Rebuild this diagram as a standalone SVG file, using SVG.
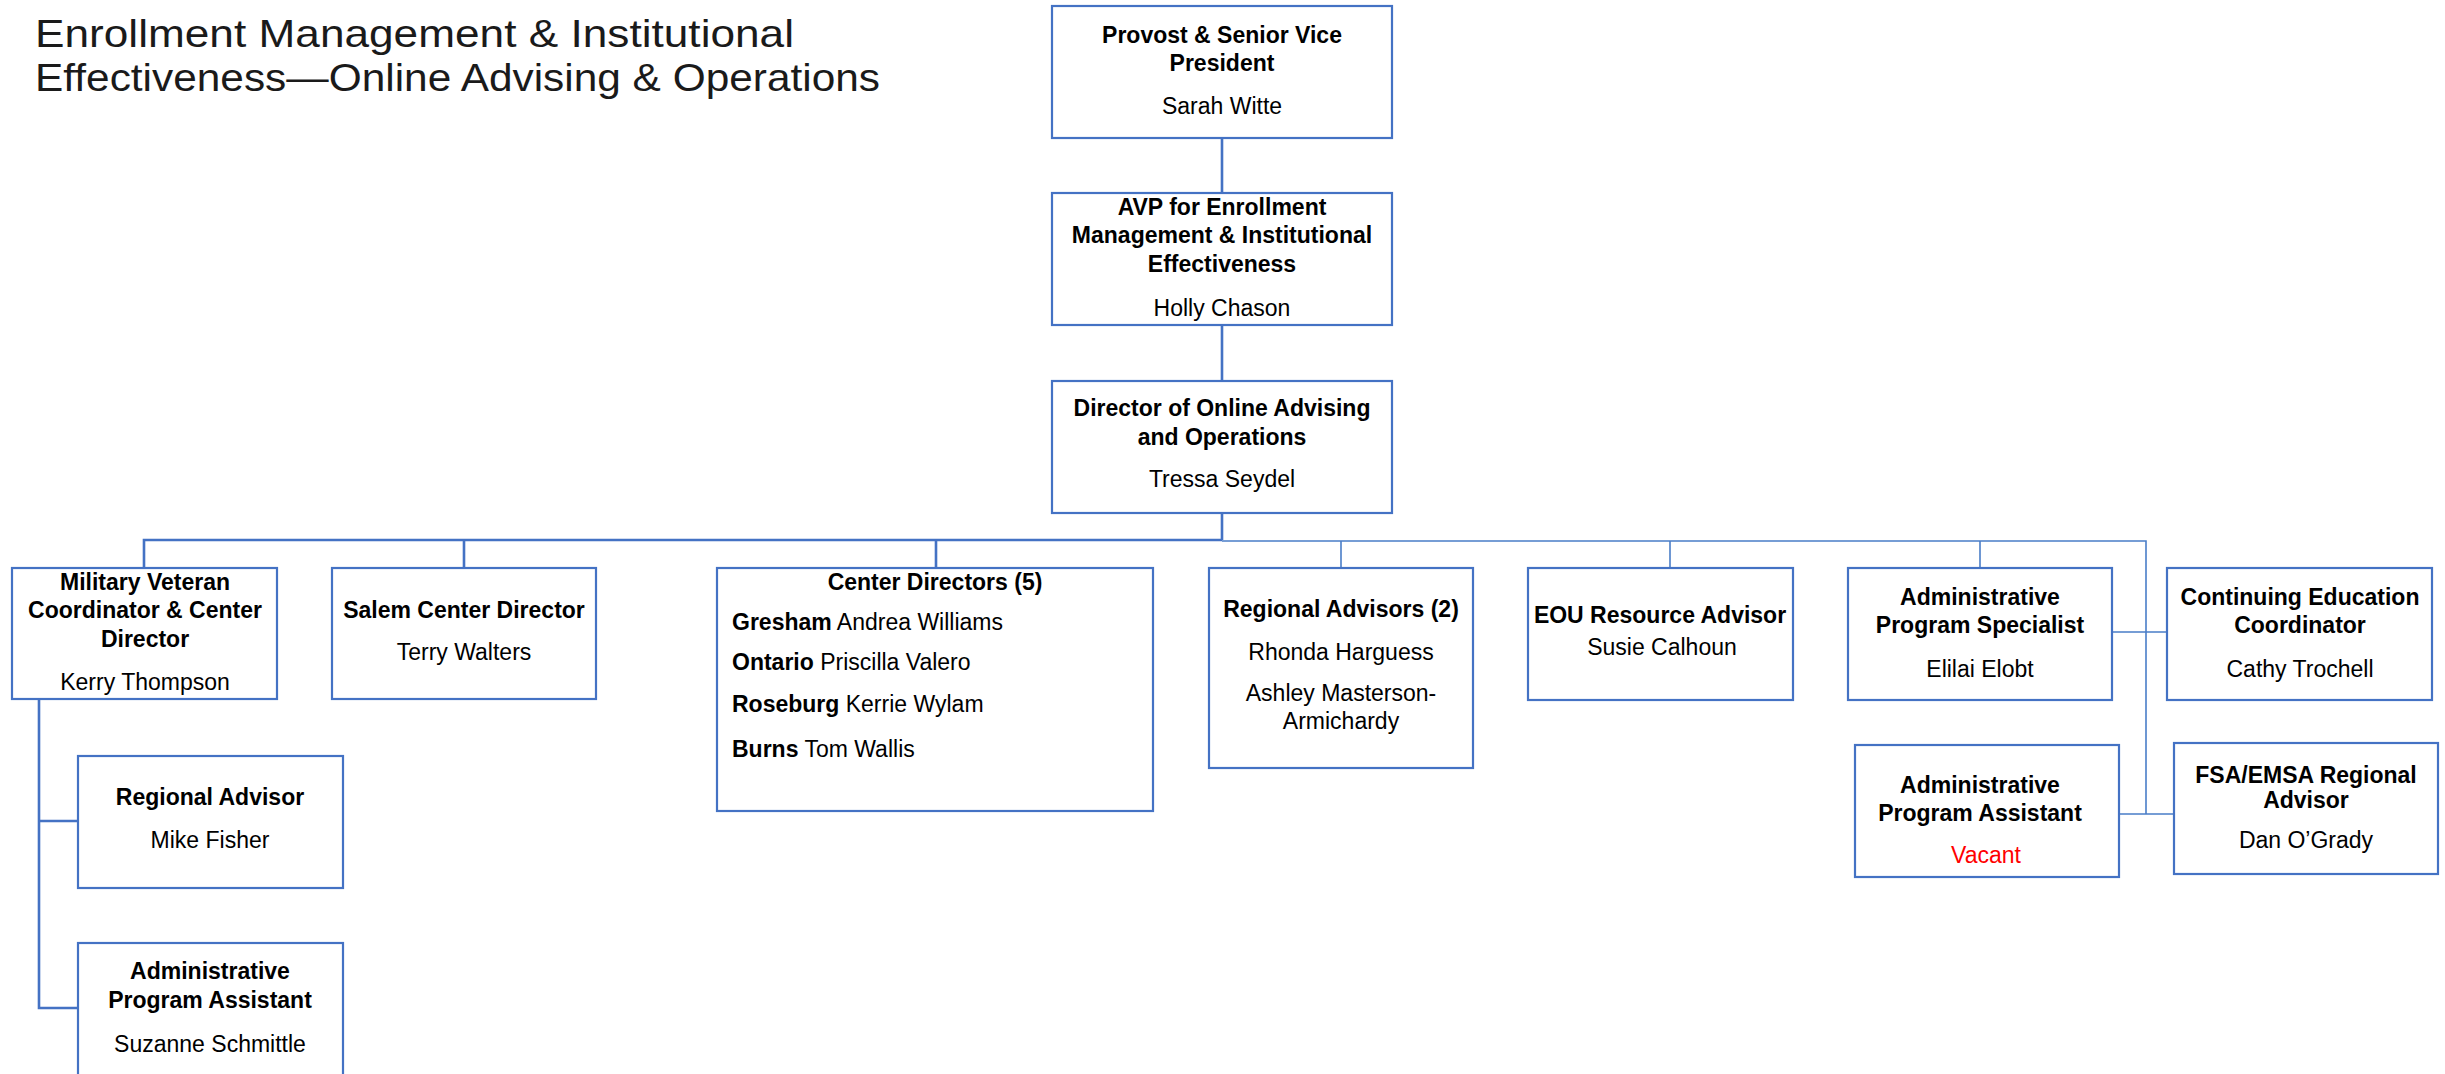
<svg xmlns="http://www.w3.org/2000/svg" width="2445" height="1074" viewBox="0 0 2445 1074">
<style>
  .box { fill: #ffffff; stroke: #4472C4; stroke-width: 2.2; }
  .thick { fill: none; stroke: #4472C4; stroke-width: 2.6; }
  .thin { fill: none; stroke: #4A7EC8; stroke-width: 1.6; }
  text { font-family: "Liberation Sans", Arial, sans-serif; font-size: 23px; fill: #000; }
  .b { font-weight: bold; text-anchor: middle; }
  .r { text-anchor: middle; }
  .l { text-anchor: start; }
  .bold { font-weight: bold; }
  .vac { fill: #FF0000; }
  .title { font-size: 39px; fill: #1a1a1a; text-anchor: start; }
</style>
<rect x="0" y="0" width="2445" height="1074" fill="#ffffff"/>

<g id="title">
  <text class="title" x="35" y="47" textLength="759" lengthAdjust="spacingAndGlyphs">Enrollment Management &amp; Institutional</text>
  <text class="title" x="35" y="91" textLength="845" lengthAdjust="spacingAndGlyphs">Effectiveness—Online Advising &amp; Operations</text>
</g>

<g id="connectors">
  <path class="thick" d="M1222 138 V193 M1222 325 V381 M1222 513 V540"/>
  <path class="thick" d="M1222 540 H144 V568 M464 540 V568 M936 540 V568"/>
  <path class="thin" d="M1222 541 H2146 V814 M1341 541 V568 M1670 541 V568 M1980 541 V577"/>
  <path class="thin" d="M2112 632 H2167 M2119 814 H2174"/>
  <path class="thick" d="M39 699 V1008 H78 M39 821 H78"/>
</g>

<g id="provost">
  <rect class="box" x="1052" y="6" width="340" height="132"/>
  <text class="b" x="1222" y="43">Provost &amp; Senior Vice</text>
  <text class="b" x="1222" y="71">President</text>
  <text class="r" x="1222" y="114">Sarah Witte</text>
</g>

<g id="avp">
  <rect class="box" x="1052" y="193" width="340" height="132"/>
  <text class="b" x="1222" y="215">AVP for Enrollment</text>
  <text class="b" x="1222" y="243">Management &amp; Institutional</text>
  <text class="b" x="1222" y="272">Effectiveness</text>
  <text class="r" x="1222" y="316">Holly Chason</text>
</g>

<g id="director">
  <rect class="box" x="1052" y="381" width="340" height="132"/>
  <text class="b" x="1222" y="416">Director of Online Advising</text>
  <text class="b" x="1222" y="445">and Operations</text>
  <text class="r" x="1222" y="487">Tressa Seydel</text>
</g>

<g id="military">
  <rect class="box" x="12" y="568" width="265" height="131"/>
  <text class="b" x="145" y="590">Military Veteran</text>
  <text class="b" x="145" y="618">Coordinator &amp; Center</text>
  <text class="b" x="145" y="647">Director</text>
  <text class="r" x="145" y="690">Kerry Thompson</text>
</g>

<g id="salem">
  <rect class="box" x="332" y="568" width="264" height="131"/>
  <text class="b" x="464" y="618">Salem Center Director</text>
  <text class="r" x="464" y="660">Terry Walters</text>
</g>

<g id="center-directors">
  <rect class="box" x="717" y="568" width="436" height="243"/>
  <text class="b" x="935" y="590">Center Directors (5)</text>
  <text class="l" x="732" y="630"><tspan class="bold">Gresham</tspan> Andrea Williams</text>
  <text class="l" x="732" y="670"><tspan class="bold">Ontario</tspan> Priscilla Valero</text>
  <text class="l" x="732" y="712"><tspan class="bold">Roseburg</tspan> Kerrie Wylam</text>
  <text class="l" x="732" y="757"><tspan class="bold">Burns</tspan> Tom Wallis</text>
</g>

<g id="regional-advisors">
  <rect class="box" x="1209" y="568" width="264" height="200"/>
  <text class="b" x="1341" y="617">Regional Advisors (2)</text>
  <text class="r" x="1341" y="660">Rhonda Harguess</text>
  <text class="r" x="1341" y="701">Ashley Masterson-</text>
  <text class="r" x="1341" y="729">Armichardy</text>
</g>

<g id="eou">
  <rect class="box" x="1528" y="568" width="265" height="132"/>
  <text class="b" x="1660" y="623">EOU Resource Advisor</text>
  <text class="r" x="1662" y="655">Susie Calhoun</text>
</g>

<g id="aps">
  <rect class="box" x="1848" y="568" width="264" height="132"/>
  <text class="b" x="1980" y="605">Administrative</text>
  <text class="b" x="1980" y="633">Program Specialist</text>
  <text class="r" x="1980" y="677">Elilai Elobt</text>
</g>

<g id="cec">
  <rect class="box" x="2167" y="568" width="265" height="132"/>
  <text class="b" x="2300" y="605">Continuing Education</text>
  <text class="b" x="2300" y="633">Coordinator</text>
  <text class="r" x="2300" y="677">Cathy Trochell</text>
</g>

<g id="apa-right">
  <rect class="box" x="1855" y="745" width="264" height="132"/>
  <text class="b" x="1980" y="793">Administrative</text>
  <text class="b" x="1980" y="821">Program Assistant</text>
  <text class="r vac" x="1986" y="863">Vacant</text>
</g>

<g id="fsa">
  <rect class="box" x="2174" y="743" width="264" height="131"/>
  <text class="b" x="2306" y="783">FSA/EMSA Regional</text>
  <text class="b" x="2306" y="808">Advisor</text>
  <text class="r" x="2306" y="848">Dan O’Grady</text>
</g>

<g id="regional-advisor">
  <rect class="box" x="78" y="756" width="265" height="132"/>
  <text class="b" x="210" y="805">Regional Advisor</text>
  <text class="r" x="210" y="848">Mike Fisher</text>
</g>

<g id="apa-left">
  <rect class="box" x="78" y="943" width="265" height="150"/>
  <text class="b" x="210" y="979">Administrative</text>
  <text class="b" x="210" y="1008">Program Assistant</text>
  <text class="r" x="210" y="1052">Suzanne Schmittle</text>
</g>
</svg>
